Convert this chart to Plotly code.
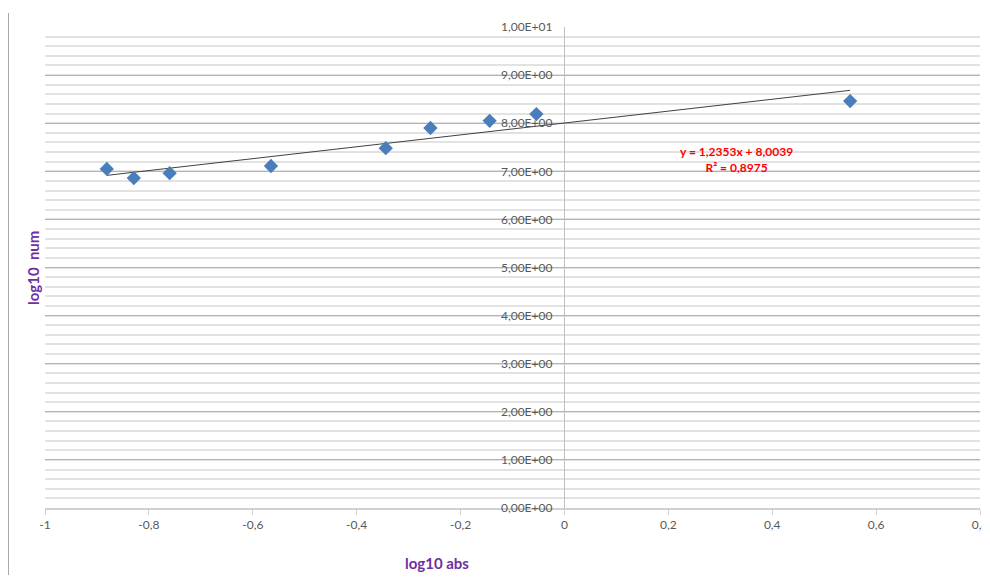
import plotly.graph_objects as go

# Data
log10_abs = [-0.881, -0.829, -0.760, -0.565, -0.344, -0.258, -0.144, -0.054, 0.550]
log10_num = [7.05, 6.86, 6.96, 7.11, 7.48, 7.90, 8.05, 8.19, 8.46]

# Trendline parameters (from chart label)
slope = 1.2353
intercept = 8.0039
r2 = 0.8975

x_tickvals = [-1, -0.8, -0.6, -0.4, -0.2, 0, 0.2, 0.4, 0.6, 0.8]
x_ticktext = ["-1", "-0,8", "-0,6", "-0,4", "-0,2", "0", "0,2", "0,4", "0,6", "0,8"]
y_tickvals = [0, 1, 2, 3, 4, 5, 6, 7, 8, 9, 10]
y_ticktext = ["0,00E+00", "1,00E+00", "2,00E+00", "3,00E+00", "4,00E+00", "5,00E+00",
              "6,00E+00", "7,00E+00", "8,00E+00", "9,00E+00", "1,00E+01"]

x_min, x_max = min(log10_abs), max(log10_abs)
trend_x = [x_min, x_max]
trend_y = [slope * v + intercept for v in trend_x]

FONT = "Lato"
OFF = 8  # page body margin
# desired plot area in page pixels: left 45, right 980, top 27, bottom 508
W, H = 990 - OFF, 583 - 2 * OFF
L = 45 - OFF
T = 27 - OFF
R = W - (980 - OFF)
B = H - (508 - OFF)
PW, PH = W - L - R, H - T - B


def px_x(px):
    return (px - OFF - L) / PW


def px_y(py):
    return 1 - (py - OFF - T) / PH


fig = go.Figure()
fig.add_trace(go.Scatter(
    x=trend_x, y=trend_y, mode="lines",
    line=dict(color="#404040", width=1), showlegend=False, hoverinfo="skip"))
fig.add_trace(go.Scatter(
    x=log10_abs, y=log10_num, mode="markers",
    marker=dict(symbol="diamond", size=11, color="#4A7EBB"),
    showlegend=False))

ypos = (0 - (-1)) / (0.8 - (-1))

fig.update_layout(
    width=W, height=H,
    margin=dict(l=L, r=R, t=T, b=B),
    paper_bgcolor="white", plot_bgcolor="white",
    font=dict(family=FONT, size=12, color="#595959"),
    xaxis=dict(
        range=[-1, 0.8], tickvals=x_tickvals, ticktext=x_ticktext,
        automargin=False, ticklabeloverflow="allow",
        showgrid=False, zeroline=True, zerolinecolor="#c0c0c0", zerolinewidth=1,
        showline=True, linecolor="#d0d0d0", linewidth=1.5,
        ticks="outside", ticklen=5, tickcolor="#d0d0d0",
        tickfont=dict(family=FONT, size=12, color="#595959"),
    ),
    yaxis=dict(
        range=[0, 10], tickvals=y_tickvals, ticktext=y_ticktext,
        anchor="free", position=ypos, automargin=False,
        showgrid=True, gridcolor="#b4b4b4", gridwidth=1,
        minor=dict(dtick=0.2, showgrid=True, gridcolor="#e2e2e2", gridwidth=1.5),
        zeroline=False, showline=False, ticks="", ticklabelstandoff=12,
        tickfont=dict(family=FONT, size=12, color="#595959"),
    ),
    annotations=[
        dict(x=px_x(736), y=px_y(160), xref="paper", yref="paper", showarrow=False,
             xanchor="center", yanchor="middle",
             text=f"<b>y = {str(slope).replace('.', ',')}x + {str(intercept).replace('.', ',')}</b><br><b>R² = {str(r2).replace('.', ',')}</b>",
             font=dict(family=FONT, size=12, color="#FF0000"), align="center"),
        dict(x=px_x(33), y=px_y(268), xref="paper", yref="paper", showarrow=False,
             xanchor="center", yanchor="middle",
             text="<b>log10  num</b>", textangle=-90,
             font=dict(family=FONT, size=15, color="#7030A0")),
        dict(x=px_x(437), y=px_y(563), xref="paper", yref="paper",
             xanchor="center", yanchor="middle",
             showarrow=False, text="<b>log10 abs</b>",
             font=dict(family=FONT, size=15, color="#7030A0")),
    ],
    shapes=[
        dict(type="line", xref="paper", yref="paper",
             x0=px_x(8), x1=px_x(8), y0=px_y(13), y1=px_y(583),
             line=dict(color="#8c8c8c", width=1.5)),
    ],
)

fig.write_html(
    "out.html",
    post_script="document.documentElement.style.overflow='hidden';document.body.style.overflow='hidden';",
)
